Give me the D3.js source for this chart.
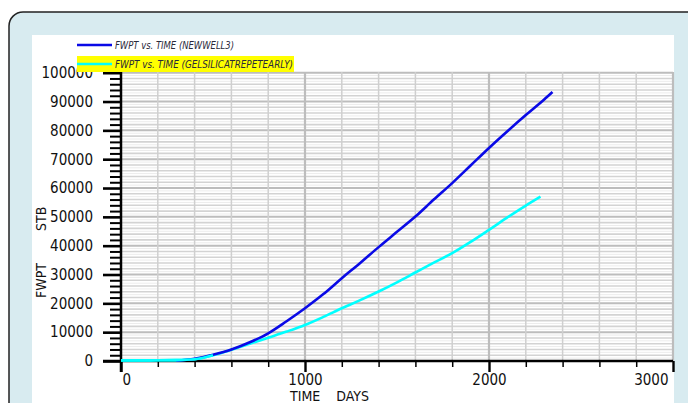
<!DOCTYPE html>
<html><head><meta charset="utf-8">
<script src="https://cdn.jsdelivr.net/npm/d3@7"></script>
<style>html,body{margin:0;padding:0;background:#fff;overflow:hidden}svg{display:block}</style>
</head><body><svg id="c" width="688" height="403"></svg>
<script>
const timeBlue = [0,100,200,300,400,500,600,700,800,900,1000,1100,1200,1300,1400,1500,1600,1700,1800,1900,2000,2100,2200,2300,2345];
const fwptBlue = [0,0,0,100,800,2200,4000,6500,9600,13800,18300,23200,28700,34000,39500,44800,50100,56000,61700,67800,73900,79700,85300,90700,93300];
const timeCyan = [0,100,200,300,400,500,600,700,800,900,1000,1100,1200,1300,1400,1500,1600,1700,1800,1900,2000,2100,2200,2280];
const fwptCyan = [200,200,250,300,600,2000,3900,6000,8100,10200,12500,15300,18300,21100,24100,27300,30700,34100,37400,41300,45500,49800,53900,57000];
const yTicks = [0,10000,20000,30000,40000,50000,60000,70000,80000,90000,100000];
const xTicks = [0,1000,2000,3000];
const legendLabels = ["FWPT vs. TIME (NEWWELL3)","FWPT vs. TIME (GELSILICATREPETEARLY)"];
const seriesColors = ["#0a0ae6","#00ffff"];

const svg = d3.select("#c");
svg.append("rect").attr("x",9).attr("y",12).attr("width",720).attr("height",440).attr("rx",14)
  .attr("fill","#d8ebf0").attr("stroke","#222").attr("stroke-width",1.5);
svg.append("rect").attr("x",32).attr("y",35).attr("width",642).attr("height",380).attr("fill","#fff");

const x = d3.scaleLinear().domain([0,3000]).range([121,673]);
const y = d3.scaleLinear().domain([0,100000]).range([361,72.7]);
const font = "'Liberation Sans Narrow','Arial Narrow','DejaVu Sans Condensed',sans-serif";

const g = svg.append("g");
g.selectAll(".hmin").data(d3.range(2000,100001,2000).filter(v=>v%10000)).enter().append("line")
  .attr("x1",121).attr("x2",673).attr("y1",d=>y(d)).attr("y2",d=>y(d)).attr("stroke","#d3d3d3").attr("stroke-width",1.6);
g.selectAll(".hmin2").data(d3.range(1000,100000,2000)).enter().append("line")
  .attr("x1",121).attr("x2",673).attr("y1",d=>y(d)).attr("y2",d=>y(d)).attr("stroke","#ececec").attr("stroke-width",1);
g.selectAll(".hmaj").data(yTicks.filter(v=>v>0)).enter().append("line")
  .attr("x1",121).attr("x2",673).attr("y1",d=>y(d)).attr("y2",d=>y(d)).attr("stroke","#bdbdbd").attr("stroke-width",2);
g.selectAll(".vmin").data(d3.range(200,3001,200).filter(v=>v%1000)).enter().append("line")
  .attr("y1",72).attr("y2",361).attr("x1",d=>x(d)).attr("x2",d=>x(d)).attr("stroke","#cfcfcf").attr("stroke-width",1.5);
g.selectAll(".vmaj").data([1000,2000,3000]).enter().append("line")
  .attr("y1",72).attr("y2",361).attr("x1",d=>x(d)).attr("x2",d=>x(d)).attr("stroke","#bdbdbd").attr("stroke-width",2.2);

const yAxis = d3.axisLeft(y).tickValues(yTicks).tickSize(18).tickFormat(d3.format("d"));
const ya = svg.append("g").attr("transform","translate(121,0)").call(yAxis);
ya.select(".domain").attr("stroke","#000").attr("stroke-width",2.5).attr("d","M0,72V372");
ya.selectAll(".tick line").attr("stroke","#000").attr("stroke-width",2.6);
ya.selectAll(".tick text").attr("x",-28).attr("font-family",font).attr("font-size",15).attr("fill","#111");
const yMinor = d3.axisLeft(y).tickValues(d3.range(2000,100000,2000).filter(v=>v%10000)).tickSize(11).tickFormat("");
const ym = svg.append("g").attr("transform","translate(121,0)").call(yMinor);
ym.select(".domain").remove();
ym.selectAll(".tick line").attr("stroke","#000").attr("stroke-width",2);

const xAxis = d3.axisBottom(x).tickValues(xTicks).tickSize(11).tickFormat(d3.format("d"));
const xa = svg.append("g").attr("transform","translate(0,361)").call(xAxis);
xa.select(".domain").attr("stroke","#000").attr("stroke-width",2.5).attr("d","M103,0H673");
xa.selectAll(".tick line").attr("stroke","#000").attr("stroke-width",2.4);
xa.selectAll(".tick text").attr("y",13).attr("font-family",font).attr("font-size",15).attr("fill","#111")
  .attr("text-anchor",d=>d===0?"start":(d===3000?"end":"middle"))
  .attr("dx",d=>d===0?1:(d===3000?-5:0));
const xMinor = d3.axisBottom(x).tickValues(d3.range(200,3000,200).filter(v=>v%1000)).tickSize(6).tickFormat("");
const xm = svg.append("g").attr("transform","translate(0,361)").call(xMinor);
xm.select(".domain").remove();
xm.selectAll(".tick line").attr("stroke","#000").attr("stroke-width",1.5);

svg.append("text").attr("x",290).attr("y",401).attr("font-family",font).attr("font-size",14).attr("fill","#111")
  .attr("xml:space","preserve").text("TIME    DAYS");
svg.append("text").attr("transform","translate(46,298) rotate(-90)").attr("font-family",font).attr("font-size",14).attr("fill","#111")
  .attr("xml:space","preserve").text("FWPT        STB");

const line = d3.line().x(d=>x(d[0])).y(d=>y(d[1])).curve(d3.curveMonotoneX);
const lg = svg.append("g");
lg.append("path").datum(d3.zip(timeCyan,fwptCyan)).attr("d",line).attr("fill","none")
  .attr("stroke",seriesColors[1]).attr("stroke-width",2.6);
lg.append("path").datum(d3.zip(timeBlue,fwptBlue).filter(d=>d[0]>=300)).attr("d",line).attr("fill","none")
  .attr("stroke",seriesColors[0]).attr("stroke-width",2.6);
lg.append("path").datum(d3.zip(timeCyan,fwptCyan).filter(d=>d[0]<=500)).attr("d",line).attr("fill","none")
  .attr("stroke",seriesColors[1]).attr("stroke-width",2.6);

svg.append("rect").attr("x",77).attr("y",56).attr("width",217).attr("height",16).attr("fill","#ffff00");
const leg = [{y:45,tw:119},{y:64,tw:178}];
leg.forEach((L,i)=>{
  svg.append("line").attr("x1",77).attr("x2",112).attr("y1",L.y).attr("y2",L.y)
    .attr("stroke",seriesColors[i]).attr("stroke-width",2.6);
  svg.append("text").attr("x",115).attr("y",L.y+3.5).attr("font-family",font).attr("font-size",11)
    .attr("font-style","italic").attr("fill","#2a2a3a").attr("textLength",L.tw).attr("lengthAdjust","spacingAndGlyphs")
    .text(legendLabels[i]);
});
</script></body></html>
